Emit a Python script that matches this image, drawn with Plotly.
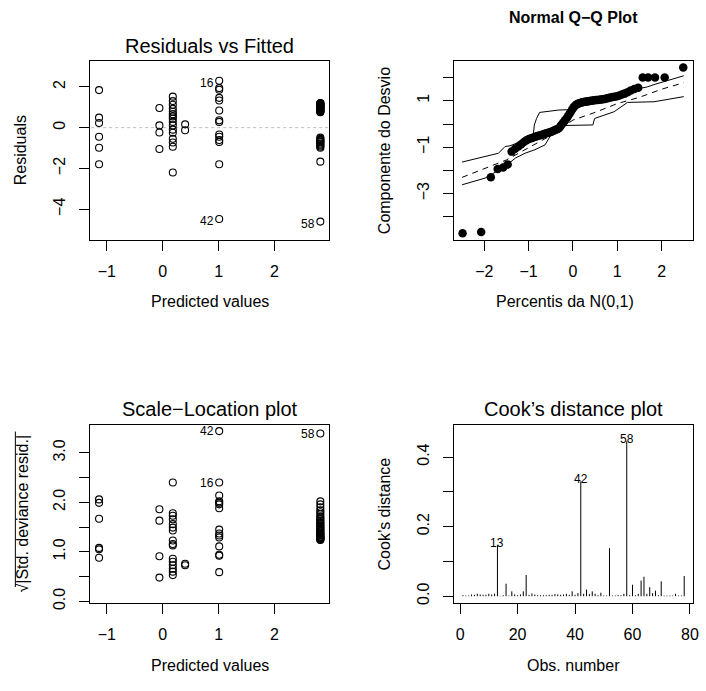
import plotly.graph_objects as go
from statistics import NormalDist

W, H = 706, 691

# ---------------- data ----------------
# Panel 1 / 3: fitted-value groups
fitted_levels = [-1.14, -0.06, 0.18, 0.40, 1.01, 2.82]

resid_groups = [
    [1.84, 0.49, 0.23, -0.45, -0.99, -1.80],
    [0.96, 0.11, -0.24, -1.05],
    [1.52, 1.30, 1.12, 0.92, 0.78, 0.66, 0.55, 0.44, 0.28, 0.11, -0.10, -0.25, -0.55, -0.73, -0.94, -2.20],
    [0.16, -0.13],
    [2.30, 1.94, 1.86, 1.46, 1.33, 0.84, 0.36, 0.28, -0.34, -0.45, -0.61, -0.70, -1.80, -4.48],
    [1.21, 1.19, 1.18, 1.16, 1.13, 1.12, 1.10, 1.08, 1.06, 1.03, 1.01, 0.99, 0.98, 0.95, 0.93, 0.90,
     0.88, 0.86, 0.83, 0.81, 0.78, 0.76,
     -0.49, -0.55, -0.60, -0.64, -0.69, -0.72, -0.78, -0.83, -0.88, -0.93, -0.99, -1.67, -4.61],
]
resid_id_labels = ["16", "42", "58"]
resid_id_pos = [(4, 0), (4, -1), (5, -1)]

sl_groups = [
    [2.06, 1.99, 1.67, 1.08, 1.05, 0.88],
    [1.86, 1.63, 0.91, 0.48],
    [2.40, 1.78, 1.73, 1.66, 1.56, 1.49, 1.43, 1.23, 1.16, 1.13, 0.86, 0.80, 0.73, 0.66, 0.60, 0.53],
    [0.76, 0.73],
    [3.44, 2.40, 2.14, 2.02, 1.99, 1.96, 1.88, 1.45, 1.37, 1.33, 1.29, 1.11, 0.94, 0.92, 0.59],
    [3.39, 2.02, 1.96, 1.90, 1.84, 1.80, 1.76, 1.72, 1.69, 1.66, 1.63, 1.60, 1.58, 1.56, 1.53, 1.51,
     1.49, 1.47, 1.45, 1.43, 1.41, 1.39, 1.37, 1.36, 1.34, 1.33, 1.31, 1.30, 1.29, 1.28, 1.27, 1.26, 1.25, 1.24],
]
sl_id_labels = ["42", "16", "58"]
sl_id_pos = [(4, 0), (4, 1), (5, 0)]

# Panel 2: sorted deviance components
qq_values = [-4.71, -4.65, -2.29, -1.94, -1.87, -1.75, -1.19, -1.07, -0.97, -0.87,
             -0.78, -0.70, -0.65, -0.61, -0.58, -0.55, -0.52, -0.50, -0.47, -0.45,
             -0.42, -0.40, -0.38, -0.36, -0.33, -0.30, -0.27, -0.24, -0.21, -0.17,
             -0.08, 0.00, 0.08, 0.16, 0.24, 0.33, 0.43, 0.53, 0.63, 0.72,
             0.79, 0.84, 0.87, 0.90, 0.92, 0.94, 0.95, 0.96, 0.97, 0.98,
             0.99, 1.00, 1.01, 1.02, 1.03, 1.04, 1.05, 1.06, 1.07, 1.08,
             1.10, 1.12, 1.14, 1.16, 1.18, 1.20, 1.23, 1.27, 1.31, 1.37,
             1.44, 1.51, 1.56, 2.00, 2.00, 2.00, 2.01, 2.44]

# simulated envelope
env_upper_x = [-2.50, -1.68, -1.53, -1.42, -1.30, -1.10, -0.95, -0.89, -0.87, -0.82, -0.75, -0.33,
               -0.10, 0.05, 0.30, 0.80, 1.10, 1.31, 1.68, 1.83, 2.50]
env_upper_y = [-1.64, -1.26, -0.97, -0.94, -0.85, -0.72, -0.60, -0.40, -0.04, 0.24, 0.50, 0.60,
               0.62, 0.85, 1.00, 1.12, 1.25, 1.46, 1.60, 1.70, 2.08]
env_lower_x = [-2.50, -1.98, -1.53, -1.30, -1.08, -0.86, -0.63, -0.56, -0.48, -0.37, 0.45, 0.49,
               0.93, 1.23, 1.83, 2.50]
env_lower_y = [-2.62, -2.33, -1.83, -1.47, -1.26, -1.11, -0.90, -0.69, -0.40, -0.07, -0.04, 0.24,
               0.53, 0.93, 0.96, 1.18]
env_mid_x = [-2.50, -2.00, -1.50, -1.00, -0.50, 0.00, 0.50, 1.00, 1.50, 2.00, 2.50]
env_mid_y = [-2.30, -1.92, -1.55, -1.02, -0.50, 0.17, 0.50, 0.88, 1.15, 1.50, 1.78]

# Panel 4: Cook's distances by observation
cook = [0.003, 0.002, 0.002, 0.005, 0.004, 0.007, 0.005, 0.004, 0.004, 0.007,
        0.005, 0.007, 0.147, 0.001, 0.003, 0.036, 0.002, 0.014, 0.005, 0.003,
        0.005, 0.014, 0.061, 0.004, 0.008, 0.005, 0.003, 0.003, 0.003, 0.003,
        0.004, 0.004, 0.006, 0.005, 0.004, 0.005, 0.007, 0.004, 0.014, 0.004,
        0.009, 0.330, 0.007, 0.019, 0.006, 0.014, 0.007, 0.003, 0.010, 0.002,
        0.002, 0.138, 0.002, 0.002, 0.003, 0.003, 0.007, 0.445, 0.003, 0.033,
        0.003, 0.007, 0.045, 0.056, 0.007, 0.026, 0.009, 0.016, 0.003, 0.043,
        0.002, 0.002, 0.002, 0.002, 0.007, 0.002, 0.002, 0.058]
cook_id = [13, 42, 58]

# ---------------- figure ----------------
FONT = "Liberation Sans, Arial, sans-serif"
fig = go.Figure()

def px_x(p):
    return p / W

def px_y(p):
    return 1 - p / H

boxes = {
    1: (91, 332, 62, 242),
    2: (458, 699, 62, 242),
    3: (91, 332, 429, 609),
    4: (458, 699, 429, 609),
}

def axis_common():
    return dict(showline=True, mirror=True, linecolor="black", linewidth=1,
                ticks="outside", ticklen=10, tickcolor="black", tickwidth=1,
                showgrid=False, zeroline=False,
                tickfont=dict(family=FONT, size=16, color="black"))

def add_axes(i, xr, yr, xtv, xtt, ytv, ytt):
    x0, x1, y0, y1 = boxes[i]
    xa = axis_common()
    xa.update(domain=[px_x(x0), px_x(x1)], range=xr, tickvals=xtv, ticktext=xtt,
              anchor="y" if i == 1 else f"y{i}", ticklabelstandoff=7)
    ya = axis_common()
    ya.update(domain=[px_y(y1), px_y(y0)], range=yr, tickvals=ytv, ticktext=ytt,
              anchor="x" if i == 1 else f"x{i}", tickangle=-90, ticklabelstandoff=8)
    fig.layout["xaxis" if i == 1 else f"xaxis{i}"] = xa
    fig.layout["yaxis" if i == 1 else f"yaxis{i}"] = ya

M = "\u2212"

# Panel 1
xs, ys = [], []
for lv, grp in zip(fitted_levels, resid_groups):
    xs += [lv] * len(grp)
    ys += grp
fig.add_trace(go.Scatter(x=[fitted_levels[0] - 1, fitted_levels[-1] + 1], y=[0, 0], mode="lines",
                         line=dict(color="#bebebe", width=1, dash="dot"), xaxis="x", yaxis="y",
                         hoverinfo="skip"))
fig.add_trace(go.Scatter(x=xs, y=ys, mode="markers", xaxis="x", yaxis="y",
                         marker=dict(symbol="circle-open", size=7, color="black", line=dict(width=1.1))))
for lab, (g, k) in zip(resid_id_labels, resid_id_pos):
    fig.add_annotation(x=fitted_levels[g], y=resid_groups[g][k], xref="x", yref="y", text=lab,
                       showarrow=False, xanchor="right", yanchor="middle", xshift=-3, yshift=-2,
                       font=dict(family=FONT, size=12, color="black"))
add_axes(1, [-1.298, 2.978], [-5.49, 3.25], [-1, 0, 1, 2], [M + "1", "0", "1", "2"],
         [-4, -2, 0, 2], [M + "4", M + "2", "0", "2"])

# Panel 2
n = len(qq_values)
nd = NormalDist()
theo = [nd.inv_cdf((i + 0.5) / n) for i in range(n)]
fig.add_trace(go.Scatter(x=env_upper_x, y=env_upper_y, mode="lines", xaxis="x2", yaxis="y2",
                         line=dict(color="black", width=1)))
fig.add_trace(go.Scatter(x=env_lower_x, y=env_lower_y, mode="lines", xaxis="x2", yaxis="y2",
                         line=dict(color="black", width=1)))
fig.add_trace(go.Scatter(x=env_mid_x, y=env_mid_y, mode="lines", xaxis="x2", yaxis="y2",
                         line=dict(color="black", width=1, dash="6px,5px")))
fig.add_trace(go.Scatter(x=theo, y=qq_values, mode="markers", xaxis="x2", yaxis="y2",
                         marker=dict(symbol="circle", size=8.5, color="black")))
add_axes(2, [-2.68, 2.71], [-4.98, 2.70], [-2, -1, 0, 1, 2], [M + "2", M + "1", "0", "1", "2"],
         [-5, -4, -3, -2, -1, 0, 1, 2], [M + "5", "", M + "3", "", M + "1", "", "1", ""])

# Panel 3
xs, ys = [], []
for lv, grp in zip(fitted_levels, sl_groups):
    xs += [lv] * len(grp)
    ys += grp
fig.add_trace(go.Scatter(x=xs, y=ys, mode="markers", xaxis="x3", yaxis="y3",
                         marker=dict(symbol="circle-open", size=7, color="black", line=dict(width=1.1))))
for lab, (g, k) in zip(sl_id_labels, sl_id_pos):
    fig.add_annotation(x=fitted_levels[g], y=sl_groups[g][k], xref="x3", yref="y3", text=lab,
                       showarrow=False, xanchor="right", yanchor="middle", xshift=-3, yshift=0,
                       font=dict(family=FONT, size=12, color="black"))
add_axes(3, [-1.298, 2.978], [-0.03, 3.57], [-1, 0, 1, 2], [M + "1", "0", "1", "2"],
         [0, 0.5, 1, 1.5, 2, 2.5, 3], ["0.0", "", "1.0", "", "2.0", "", "3.0"])

# Panel 4
obs = list(range(1, len(cook) + 1))
bx, by = [], []
for o, c in zip(obs, cook):
    bx += [o, o, None]
    by += [0, c, None]
fig.add_trace(go.Scatter(x=bx, y=by, mode="lines", xaxis="x4", yaxis="y4",
                         line=dict(color="black", width=1)))
for o in cook_id:
    fig.add_annotation(x=o, y=cook[o - 1], xref="x4", yref="y4", text=str(o), showarrow=False,
                       xanchor="center", yanchor="middle", yshift=2,
                       font=dict(family=FONT, size=12, color="black"))
add_axes(4, [-2.08, 81.08], [-0.019, 0.493], [0, 20, 40, 60, 80], ["0", "20", "40", "60", "80"],
         [0, 0.1, 0.2, 0.3, 0.4], ["0.0", "", "0.2", "", "0.4"])

# ---------------- texts ----------------
def ann(text, x, y, size=16, angle=0, bold=False):
    fig.add_annotation(x=px_x(x), y=px_y(y), xref="paper", yref="paper",
                       text=("<b>%s</b>" % text) if bold else text,
                       showarrow=False, xanchor="center", yanchor="middle", textangle=angle,
                       font=dict(family=FONT, size=size, color="black"))

ann("Residuals vs Fitted", 211.5, 46, size=20)
ann("Normal Q" + M + "Q Plot", 578, 18, size=16, bold=True)
ann("Scale" + M + "Location plot", 211.5, 413, size=20)
ann("Cook\u2019s distance plot", 578.5, 413, size=20)

ann("Predicted values", 211.5, 305)
ann("Percentis da N(0,1)", 570, 305)
ann("Predicted values", 211.5, 672)
ann("Obs. number", 578.5, 672)

ann("Residuals", 21, 152, angle=-90)
ann("Componente do Desvio", 388, 152, angle=-90)
ann("\u221a|Std. deviance resid.|", 23, 519, angle=-90)
ann("Cook\u2019s distance", 388, 519, angle=-90)

# overbar of the radical sign in the rotated y label
fig.add_shape(type="line", xref="paper", yref="paper",
              x0=px_x(15.5), x1=px_x(15.5), y0=px_y(436), y1=px_y(593),
              line=dict(color="black", width=1))

fig.update_layout(width=W, height=H, margin=dict(l=0, r=0, t=0, b=0),
                  paper_bgcolor="white", plot_bgcolor="white", showlegend=False,
                  font=dict(family=FONT, size=16, color="black"))

fig.write_html("out.html", config={"displayModeBar": False},
               post_script="document.documentElement.style.overflow='hidden';document.body.style.margin='0';document.body.style.overflow='hidden';")
